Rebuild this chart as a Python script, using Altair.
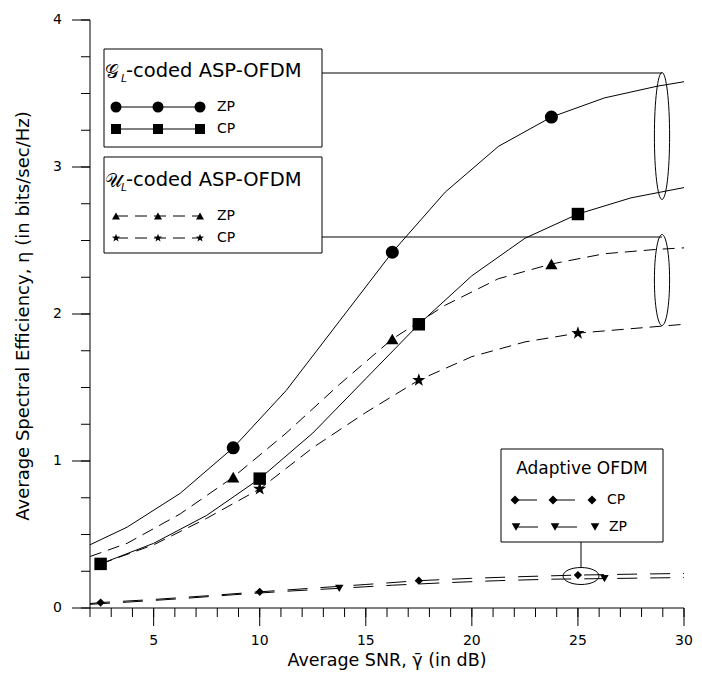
import math
import altair as alt
import pandas as pd

# ---------------- values ----------------
# G_L-coded ASP-OFDM, ZP (solid line, circles)
GZP_X = [2.0, 3.75, 6.25, 8.75, 11.25, 13.75, 16.25, 18.75, 21.25, 23.75, 26.25, 28.75, 30.0]
GZP_Y = [0.43, 0.55, 0.78, 1.09, 1.48, 1.95, 2.42, 2.83, 3.14, 3.34, 3.47, 3.55, 3.58]
GZP_MX = [8.75, 16.25, 23.75]
GZP_MY = [1.09, 2.42, 3.34]

# G_L-coded ASP-OFDM, CP (solid line, squares)
GCP_X = [2.5, 5.0, 7.5, 10.0, 12.5, 15.0, 17.5, 20.0, 22.5, 25.0, 27.5, 30.0]
GCP_Y = [0.30, 0.44, 0.63, 0.88, 1.19, 1.56, 1.93, 2.26, 2.515, 2.68, 2.79, 2.86]
GCP_MX = [2.5, 10.0, 17.5, 25.0]
GCP_MY = [0.30, 0.88, 1.93, 2.68]

# U_L-coded ASP-OFDM, ZP (dashed line, triangles)
UZP_X = [2.0, 3.75, 6.25, 8.75, 11.25, 13.75, 16.25, 18.75, 21.25, 23.75, 26.25, 28.75, 30.0]
UZP_Y = [0.35, 0.44, 0.64, 0.89, 1.19, 1.52, 1.83, 2.06, 2.24, 2.34, 2.41, 2.44, 2.45]
UZP_MX = [8.75, 16.25, 23.75]
UZP_MY = [0.89, 1.83, 2.34]

# U_L-coded ASP-OFDM, CP (dashed line, stars)
UCP_X = [2.5, 5.0, 7.5, 10.0, 12.5, 15.0, 17.5, 20.0, 22.5, 25.0, 27.5, 30.0]
UCP_Y = [0.30, 0.43, 0.61, 0.81, 1.09, 1.33, 1.55, 1.71, 1.81, 1.87, 1.90, 1.93]
UCP_MX = [10.0, 17.5, 25.0]
UCP_MY = [0.81, 1.55, 1.87]

# Adaptive OFDM, CP (long dash, diamonds)
ACP_X = [2.0, 2.5, 5.0, 7.5, 10.0, 12.5, 15.0, 17.5, 20.0, 22.5, 25.0, 27.5, 30.0]
ACP_Y = [0.030, 0.037, 0.058, 0.083, 0.110, 0.135, 0.160, 0.186, 0.202, 0.214, 0.224, 0.230, 0.235]
ACP_MX = [2.5, 10.0, 17.5, 25.0]
ACP_MY = [0.037, 0.110, 0.186, 0.224]

# Adaptive OFDM, ZP (long dash, down triangles)
AZP_X = [2.0, 3.75, 6.25, 8.75, 11.25, 13.75, 16.25, 18.75, 21.25, 23.75, 26.25, 28.75, 30.0]
AZP_Y = [0.025, 0.040, 0.063, 0.090, 0.114, 0.134, 0.155, 0.172, 0.186, 0.196, 0.200, 0.205, 0.207]
AZP_MX = [13.75, 26.25]
AZP_MY = [0.134, 0.200]

X_MAJOR = [5, 10, 15, 20, 25, 30]
X_MINOR = list(range(2, 31))
Y_MAJOR = [0, 1, 2, 3, 4]
Y_MINOR = [i * 0.25 for i in range(17)]

# ---------------- layout ----------------
FONT = "DejaVu Sans"
X_DOM = [2, 30]
Y_DOM = [0, 4]
PW, PH = 594, 588              # data-area size in pixels
PLOT_LEFT, PLOT_TOP = 90, 20   # page pixel of the data-area origin
CANVAS_W, CANVAS_H = 686, 663  # whole drawing (page margin 8 px)
MAJOR_TICK, MINOR_TICK = 18, 9


def px2x(px):
    return X_DOM[0] + (px - PLOT_LEFT) * (X_DOM[1] - X_DOM[0]) / PW


def py2y(py):
    return Y_DOM[1] - (py - PLOT_TOP) * (Y_DOM[1] - Y_DOM[0]) / PH


# the view spans the whole canvas, so axes/ticks are drawn as marks inside it
xs = alt.Scale(domain=[px2x(8), px2x(8 + CANVAS_W)], nice=False, zero=False)
ys = alt.Scale(domain=[py2y(8 + CANVAS_H), py2y(8)], nice=False, zero=False)


def XQ(f="x"):
    return alt.X(f"{f}:Q", scale=xs, axis=None)


def YQ(f="y"):
    return alt.Y(f"{f}:Q", scale=ys, axis=None)


# custom symbol paths
def star_path(r_in=0.4):
    pts = []
    for i in range(10):
        a = math.radians(-90 + 36 * i)
        r = 1.0 if i % 2 == 0 else r_in
        pts.append(f"{r * math.cos(a):.4f},{r * math.sin(a):.4f}")
    return "M" + " L".join(pts) + " Z"


def ellipse_path(rx, ry):
    k = 0.5523
    return (f"M0,{-ry} C{k*rx:.4f},{-ry} {rx},{-k*ry:.4f} {rx},0 "
            f"C{rx},{k*ry:.4f} {k*rx:.4f},{ry} 0,{ry} "
            f"C{-k*rx:.4f},{ry} {-rx},{k*ry:.4f} {-rx},0 "
            f"C{-rx},{-k*ry:.4f} {-k*rx:.4f},{-ry} 0,{-ry} Z")


STAR = star_path()


def line_layer(xv, yv, dash=None):
    kw = dict(color="black", strokeWidth=1)
    if dash:
        kw["strokeDash"] = dash
    return alt.Chart(pd.DataFrame({"x": xv, "y": yv})).mark_line(**kw).encode(x=XQ(), y=YQ())


def marker_layer(xv, yv, shape, size):
    return alt.Chart(pd.DataFrame({"x": xv, "y": yv})).mark_point(
        shape=shape, size=size, filled=True, color="black", opacity=1
    ).encode(x=XQ(), y=YQ())


def rule_layer(df):
    enc = dict(x=XQ(), y=YQ())
    if "x2" in df:
        enc["x2"] = "x2:Q"
    if "y2" in df:
        enc["y2"] = "y2:Q"
    return alt.Chart(df).mark_rule(color="black", strokeWidth=1).encode(**enc)


def text_df(xv, yv, tv):
    return pd.DataFrame({"x": xv, "y": yv, "t": tv})


def text_layer(df, size, align="left", baseline="middle", style="normal", angle=0):
    return alt.Chart(df).mark_text(
        fontSize=size, align=align, baseline=baseline, font=FONT, fontStyle=style,
        color="black", angle=angle
    ).encode(x=XQ(), y=YQ(), text="t:N")


def px_text(items, size, **kw):
    return text_layer(text_df([px2x(i[0]) for i in items], [py2y(i[1]) for i in items],
                              [i[2] for i in items]), size, **kw)


DASH_U = [12, 7]
DASH_A = [20, 13]

layers = []

# ---- axes drawn as marks ----
y_x0 = X_DOM[0]
x_y0 = Y_DOM[0]
layers.append(rule_layer(pd.DataFrame({"x": [X_DOM[0]], "x2": [X_DOM[1]], "y": [x_y0]})))
layers.append(rule_layer(pd.DataFrame({"x": [y_x0], "y": [Y_DOM[0]], "y2": [Y_DOM[1]]})))
layers.append(rule_layer(pd.DataFrame({"x": X_MINOR, "y": [x_y0] * len(X_MINOR),
                                       "y2": [py2y(608 + MINOR_TICK)] * len(X_MINOR)})))
layers.append(rule_layer(pd.DataFrame({"x": X_MAJOR, "y": [x_y0] * len(X_MAJOR),
                                       "y2": [py2y(608 + MAJOR_TICK)] * len(X_MAJOR)})))
layers.append(rule_layer(pd.DataFrame({"y": Y_MINOR, "x": [y_x0] * len(Y_MINOR),
                                       "x2": [px2x(90 - MINOR_TICK)] * len(Y_MINOR)})))
layers.append(rule_layer(pd.DataFrame({"y": Y_MAJOR, "x": [y_x0] * len(Y_MAJOR),
                                       "x2": [px2x(90 - MAJOR_TICK)] * len(Y_MAJOR)})))
layers.append(text_layer(text_df(X_MAJOR, [py2y(641)] * len(X_MAJOR), [str(v) for v in X_MAJOR]),
                         14, align="center"))
layers.append(text_layer(text_df([px2x(62)] * len(Y_MAJOR), Y_MAJOR, [str(v) for v in Y_MAJOR]),
                         14, align="right"))
layers.append(px_text([(387, 661, "Average SNR, \u03b3\u0304 (in dB)")], 17.5, align="center"))
layers.append(px_text([(24, 316, "Average Spectral Efficiency, \u03b7 (in bits/sec/Hz)")], 18,
                      align="center", angle=270))

# ---- data curves ----
layers += [
    line_layer(GZP_X, GZP_Y),
    line_layer(GCP_X, GCP_Y),
    line_layer(UZP_X, UZP_Y, DASH_U),
    line_layer(UCP_X, UCP_Y, DASH_U),
    line_layer(ACP_X, ACP_Y, DASH_A),
    line_layer(AZP_X, AZP_Y, DASH_A),
]
layers += [
    marker_layer(GZP_MX, GZP_MY, "circle", 170),
    marker_layer(GCP_MX, GCP_MY, "square", 155),
    marker_layer(UZP_MX, UZP_MY, "triangle-up", 150),
    marker_layer(UCP_MX, UCP_MY, STAR, 190),
    marker_layer(ACP_MX, ACP_MY, "diamond", 70),
    marker_layer(AZP_MX, AZP_MY, "triangle-down", 70),
]

# ---- connectors and ellipses (annotation) ----
layers.append(rule_layer(pd.DataFrame({"x": [px2x(322), px2x(322)], "x2": [px2x(662), px2x(662)],
                                       "y": [py2y(73), py2y(237)]})))
layers.append(rule_layer(pd.DataFrame({"x": [px2x(581)], "y": [py2y(542)], "y2": [py2y(567)]})))

ell = pd.DataFrame({
    "x": [px2x(662), px2x(662), px2x(581)],
    "y": [py2y(136), py2y(280), py2y(576)],
    "shape": [ellipse_path(7.6 / 63.5, 1), ellipse_path(7.6 / 45.5, 1), ellipse_path(1, 8.5 / 18)],
    "size": [(2 * 63.5) ** 2, (2 * 45.5) ** 2, 36 ** 2],
})
layers.append(alt.Chart(ell).mark_point(filled=False, color="black", strokeWidth=1, opacity=1).encode(
    x=XQ(), y=YQ(), shape=alt.Shape("shape:N", scale=None), size=alt.Size("size:Q", scale=None)))

# ---- legend boxes ----
boxes = pd.DataFrame({
    "x": [px2x(104), px2x(104), px2x(501)],
    "x2": [px2x(322), px2x(322), px2x(663)],
    "y": [py2y(49), py2y(157), py2y(449)],
    "y2": [py2y(147), py2y(253), py2y(542)],
})
layers.append(alt.Chart(boxes).mark_rect(fill="white", stroke="black", strokeWidth=1).encode(
    x=XQ(), x2="x2:Q", y=YQ(), y2="y2:Q"))


def leg_line(x0, x1, py, dash=None):
    return line_layer([px2x(x0), px2x(x1)], [py2y(py), py2y(py)], dash)


layers += [
    leg_line(116, 200, 107),
    leg_line(116, 200, 129),
    leg_line(116, 200, 216, DASH_U),
    leg_line(116, 200, 238, DASH_U),
    leg_line(515, 592, 500, [22, 16]),
    leg_line(516, 595, 527, [22, 17]),
]
LX = [116, 158, 200]
layers += [
    marker_layer([px2x(v) for v in LX], [py2y(107)] * 3, "circle", 121),
    marker_layer([px2x(v) for v in LX], [py2y(129)] * 3, "square", 100),
    marker_layer([px2x(v) for v in LX], [py2y(216)] * 3, "triangle-up", 64),
    marker_layer([px2x(v) for v in LX], [py2y(238)] * 3, STAR, 75),
    marker_layer([px2x(v) for v in [515, 553, 592]], [py2y(500)] * 3, "diamond", 80),
    marker_layer([px2x(v) for v in [516, 555, 595]], [py2y(527)] * 3, "triangle-down", 75),
]

layers.append(px_text([(217, 107, "ZP"), (217, 129, "CP"), (217, 216, "ZP"), (217, 238, "CP"),
                       (607, 500, "CP"), (609, 527, "ZP")], 14))
layers.append(px_text([(105, 72, "\U0001D4A2"), (105, 181, "\U0001D4B0")], 19))
layers.append(px_text([(121, 79, "L"), (121, 188, "L")], 10.5, style="italic"))
layers.append(px_text([(126, 71, "-coded ASP-OFDM"), (126, 180, "-coded ASP-OFDM")], 19.5))
layers.append(px_text([(582, 469, "Adaptive OFDM")], 17, align="center"))

chart = alt.layer(*layers).properties(
    width=CANVAS_W, height=CANVAS_H,
    autosize=alt.AutoSizeParams(type="none"),
    padding=0,
    background="white",
).configure_view(stroke=None)

chart.save("out.html", embed_options={"renderer": "svg", "actions": False})
